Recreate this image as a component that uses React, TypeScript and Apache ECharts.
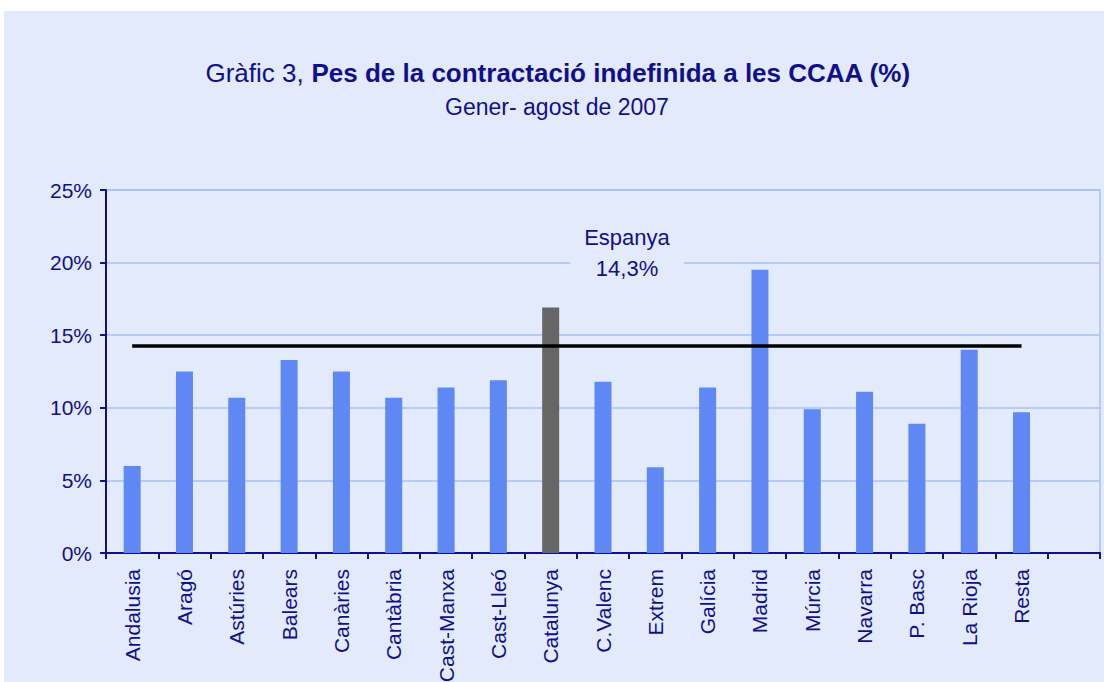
import React, { useEffect, useRef } from "react";
import * as echarts from "echarts";

const categories = [
  "Andalusia", "Aragó", "Astúries", "Balears", "Canàries", "Cantàbria",
  "Cast-Manxa", "Cast-Lleó", "Catalunya", "C.Valenc", "Extrem", "Galícia",
  "Madrid", "Múrcia", "Navarra", "P. Basc", "La Rioja", "Resta", "",
];
const values: (number | null)[] = [
  6.0, 12.5, 10.7, 13.3, 12.5, 10.7, 11.4, 11.9, 16.9, 11.8, 5.9, 11.4,
  19.5, 9.9, 11.1, 8.9, 14.0, 9.7, null,
];
const highlighted = "Catalunya";
const spainAvg = 14.3;
const spainLabel = "Espanya";
const yTicks = [0, 5, 10, 15, 20, 25];

const FONT = "'Liberation Sans', Arial, Helvetica, sans-serif";
const NAVY = "#10108c";
const BG = "#e3eafb";
const BLUE = "#5f88f5";
const GREY = "#666666";
const GRID = "#a9c0f7";

export default function App() {
  const ref = useRef<HTMLDivElement>(null);
  useEffect(() => {
    if (!ref.current) return;
    const chart = echarts.init(ref.current, undefined, { renderer: "svg" });
    chart.setOption({
      animation: false,
      backgroundColor: "#ffffff",
      textStyle: { fontFamily: FONT },
      graphic: [
        {
          type: "rect",
          z: -10,
          shape: { x: 4, y: 11, width: 1100, height: 671 },
          style: { fill: BG },
          silent: true,
        },
        {
          type: "text",
          x: 558,
          y: 73,
          style: {
            text: "{r|Gràfic 3, }{b|Pes de la contractació indefinida a les CCAA (%)}",
            align: "center",
            verticalAlign: "middle",
            rich: {
              r: { fontSize: 26, fontFamily: FONT, fill: NAVY, fontWeight: "normal" },
              b: { fontSize: 26, fontFamily: FONT, fill: NAVY, fontWeight: "bold" },
            },
          },
        },
        {
          type: "text",
          x: 557,
          y: 107,
          style: {
            text: "Gener- agost de 2007",
            fontSize: 23,
            fontFamily: FONT,
            fill: NAVY,
            align: "center",
            verticalAlign: "middle",
          },
        },
        {
          type: "text",
          x: 627,
          y: 253,
          z: 20,
          style: {
            text: spainLabel + "\n" + spainAvg.toFixed(1).replace(".", ",") + "%",
            fontSize: 22,
            lineHeight: 31,
            fontFamily: FONT,
            fill: NAVY,
            align: "center",
            verticalAlign: "middle",
            backgroundColor: BG,
            padding: [0, 14, 0, 14],
          },
        },
      ],
      grid: {
        left: 106,
        top: 190,
        right: 4,
        bottom: 129,
        containLabel: false,
        outerBoundsMode: "none",
        show: true,
        borderColor: GRID,
        borderWidth: 1.5,
        backgroundColor: "transparent",
      },
      xAxis: {
        type: "category",
        data: categories,
        boundaryGap: true,
        axisLine: { show: true, lineStyle: { color: NAVY, width: 2 } },
        axisTick: { show: true, alignWithLabel: false, length: 6, lineStyle: { color: NAVY, width: 2 }, interval: 0 },
        axisLabel: {
          rotate: 90,
          interval: 0,
          color: NAVY,
          fontSize: 21,
          fontFamily: FONT,
          margin: 16,
        },
        splitLine: { show: false },
      },
      yAxis: {
        type: "value",
        min: yTicks[0],
        max: yTicks[yTicks.length - 1],
        interval: 5,
        axisLine: { show: true, lineStyle: { color: NAVY, width: 2 } },
        axisTick: { show: true, length: 6, lineStyle: { color: NAVY, width: 2 } },
        axisLabel: {
          color: NAVY,
          fontSize: 21,
          fontFamily: FONT,
          margin: 14,
          formatter: "{value}%",
        },
        splitLine: { show: true, lineStyle: { color: GRID, width: 1.5 } },
      },
      series: [
        {
          type: "bar",
          barWidth: 17,
          data: values.map((v, i) => ({
            value: v,
            itemStyle: { color: categories[i] === highlighted ? GREY : BLUE },
          })),
          markLine: {
            silent: true,
            symbol: ["none", "none"],
            label: { show: false },
            lineStyle: { color: "#000000", width: 3.5, type: "solid" },
            z: 10,
            data: [
              [
                { coord: [categories[0], spainAvg] },
                { coord: [categories[categories.length - 2], spainAvg] },
              ],
            ],
          },
        },
      ],
    });
    return () => chart.dispose();
  }, []);
  return (
    <div style={{ position: "absolute", left: 0, top: 0, width: 1104, height: 682 }}>
      <div ref={ref} style={{ width: 1104, height: 682 }} />
    </div>
  );
}
